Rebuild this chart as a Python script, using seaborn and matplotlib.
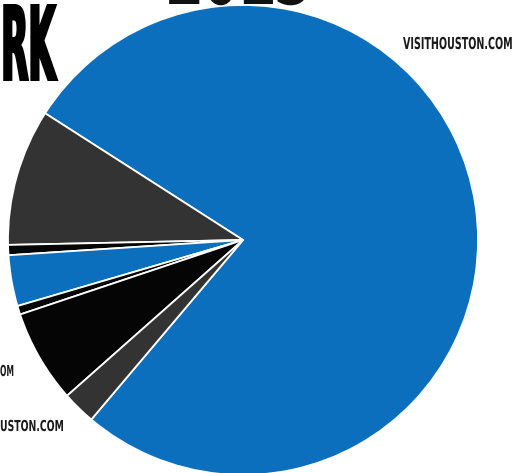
import matplotlib
matplotlib.use("Agg")
import matplotlib.pyplot as plt
from matplotlib.patheffects import AbstractPathEffect
from matplotlib.transforms import Affine2D
import seaborn as sns

# Data (shares, counter-clockwise from start)
categories = ["VISITHOUSTON.COM", "Site B", "Site C", "Site D", "Site E", "Site F", "Site G"]
shares = [77.1, 9.4, 0.7, 3.5, 0.6, 6.4, 2.3]
colors = ["#0b6fbd", "#333333", "#050505", "#0b6fbd", "#050505", "#050505", "#333333"]
labels_visible = ["VISITHOUSTON.COM", "OM", "USTON.COM"]
title_parts = ["RK", "2013"]

sns.set_theme(style="white")
plt.rcParams['font.family'] = ['DejaVu Sans']


class Condense(AbstractPathEffect):
    """Squeeze glyphs horizontally around a fixed display x (keeps real text),
    optionally thickening them with a same-colour stroke."""
    def __init__(self, sx, x0, stroke=0.0):
        super().__init__()
        self.sx = sx
        self.x0 = x0
        self.stroke = stroke

    def draw_path(self, renderer, gc, tpath, affine, rgbFace=None):
        aff = affine + Affine2D().translate(-self.x0, 0).scale(self.sx, 1).translate(self.x0, 0)
        if self.stroke > 0 and rgbFace is not None:
            gc0 = renderer.new_gc()
            gc0.copy_properties(gc)
            gc0.set_linewidth(self.stroke)
            gc0.set_foreground(rgbFace)
            gc0.set_joinstyle("miter")
            renderer.draw_path(gc0, tpath, aff, rgbFace)
            gc0.restore()
        else:
            renderer.draw_path(gc, tpath, aff, rgbFace)


W, H = 516, 473
DPI = 100
fig = plt.figure(figsize=(W / DPI, H / DPI), dpi=DPI)
ax = fig.add_axes([0, 0, 1, 1])

cx, cy, r = 243, 240, 235
ax.pie(shares, colors=colors, startangle=229.8, counterclock=True, radius=1,
       center=(0, 0),
       wedgeprops=dict(edgecolor="white", linewidth=1.3))
ax.set_aspect("auto")
ax.set_xlim(-cx / r, (W - cx) / r)
ax.set_ylim(-(H - cy) / r, cy / r)
ax.axis("off")


def px(x, y):
    return x / W, 1 - y / H


CAP = 0.729  # DejaVu Sans cap height in em
# (text, left px, right px, baseline px, cap height px, anchor, colour, stroke pt)
specs = [
    (labels_visible[0], 403, 513, 49, 12, "right", "#1a1a1a", 0.0),
    (labels_visible[1], 0, 14, 376, 11, "left", "#1a1a1a", 0.0),
    (labels_visible[2], 0, 64, 431, 11, "left", "#1a1a1a", 0.0),
    (title_parts[0], 0, 57, 81, 77, "left", "#000000", 1.8),
    (title_parts[1], 165, 313, 4, 70, "left", "#111111", 1.8),
]

items = []
for s, x0, x1, yb, cap, anchor, col, st in specs:
    stpx = st * DPI / 72
    fs = (cap - stpx) / CAP * 72 / DPI
    xa = x0 if anchor == "left" else x1
    off = stpx / 2 if anchor == "left" else -stpx / 2
    t = fig.text(*px(xa + off, yb - stpx / 2), s,
                 ha=anchor, va="baseline", fontsize=fs, fontweight="bold", color=col)
    items.append((t, x0, x1, xa + off, st, stpx))

fig.canvas.draw()
ren = fig.canvas.get_renderer()
for t, x0, x1, xanchor, st, stpx in items:
    bb = t.get_window_extent(ren)
    sx = (x1 - x0 - stpx) / bb.width
    t.set_path_effects([Condense(sx, xanchor, st)])

fig.savefig("out.png", dpi=DPI, facecolor="white")
